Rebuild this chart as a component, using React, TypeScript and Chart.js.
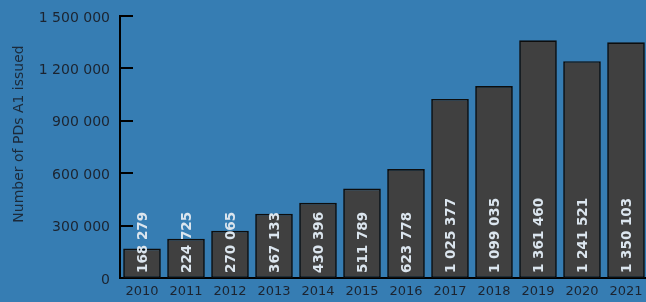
import React, { useEffect, useRef } from "react";
import { Chart, registerables } from "chart.js";

Chart.register(...registerables);

const years = ["2010", "2011", "2012", "2013", "2014", "2015", "2016", "2017", "2018", "2019", "2020", "2021"];
const issued = [168279, 224725, 270065, 367133, 430396, 511789, 623778, 1025377, 1099035, 1361460, 1241521, 1350103];
const yTicks = [0, 300000, 600000, 900000, 1200000, 1500000];
const yTitle = "Number of PDs A1 issued";

const BG = "#367db3";
const fmt = (v: number) => String(v).replace(/\B(?=(\d{3})+(?!\d))/g, " ");

export default function App() {
  const ref = useRef<HTMLCanvasElement | null>(null);
  useEffect(() => {
    document.documentElement.style.overflow = "hidden";
    document.body.style.margin = "0";
    document.body.style.background = BG;
    const bgPlugin = {
      id: "bg",
      beforeDraw(chart: any) {
        const ctx = chart.ctx;
        ctx.save();
        ctx.fillStyle = BG;
        ctx.fillRect(0, 0, chart.width, chart.height);
        ctx.restore();
      },
    };
    const decor = {
      id: "decor",
      afterDatasetsDraw(chart: any) {
        const ctx = chart.ctx;
        const y = chart.scales.y;
        const area = chart.chartArea;
        ctx.save();
        ctx.strokeStyle = "#000";
        ctx.lineWidth = 2;
        yTicks.forEach((t) => {
          if (t === 0) return;
          const py = Math.round(y.getPixelForValue(t));
          ctx.beginPath();
          ctx.moveTo(area.left, py);
          ctx.lineTo(area.left + 13, py);
          ctx.stroke();
        });
        const meta = chart.getDatasetMeta(0);
        ctx.fillStyle = "#dbe5ee";
        ctx.font = "bold 13.5px 'DejaVu Sans'";
        ctx.textAlign = "left";
        ctx.textBaseline = "middle";
        meta.data.forEach((bar: any, i: number) => {
          ctx.save();
          ctx.translate(bar.x, bar.base - 5);
          ctx.rotate(-Math.PI / 2);
          ctx.fillText(fmt(issued[i]), 0, 1);
          ctx.restore();
        });
        ctx.fillStyle = "#1c2a3a";
        ctx.font = "14px 'DejaVu Sans'";
        ctx.textAlign = "center";
        ctx.textBaseline = "middle";
        ctx.translate(19, 134);
        ctx.rotate(-Math.PI / 2);
        ctx.fillText(yTitle, 0, 0);
        ctx.restore();
      },
    };
    const chart = new Chart(ref.current!, {
      type: "bar",
      data: {
        labels: years,
        datasets: [
          {
            data: issued,
            backgroundColor: "#404040",
            borderColor: "#0d0d0d",
            borderWidth: 1.7,
            borderSkipped: false,
            categoryPercentage: 1,
            barPercentage: 0.855,
          },
        ],
      },
      options: {
        animation: false,
        responsive: false,
        maintainAspectRatio: false,
        layout: { padding: { top: 16, left: 0, right: 0, bottom: 0 } },
        plugins: { legend: { display: false }, tooltip: { enabled: false } },
        scales: {
          x: {
            grid: { display: false, drawTicks: false },
            border: { display: true, color: "#000", width: 2 },
            ticks: { color: "#1c2430", font: { family: "'DejaVu Sans'", size: 13 }, padding: 6 },
            afterFit(s: any) {
              s.height = 24;
              s.paddingLeft = 0;
              s.paddingRight = 0;
            },
          },
          y: {
            min: 0,
            max: 1500000,
            afterBuildTicks(s: any) {
              s.ticks = yTicks.map((v) => ({ value: v }));
            },
            grid: { display: false, drawTicks: false },
            border: { display: true, color: "#000", width: 2 },
            ticks: {
              color: "#1c2430",
              font: { family: "'DejaVu Sans'", size: 14 },
              padding: 10,
              labelOffset: 2,
              callback: (v: any) => fmt(Number(v)),
            },
            afterFit(s: any) {
              s.width = 120;
              s.paddingTop = 0;
              s.paddingBottom = 0;
            },
          },
        },
      },
      plugins: [bgPlugin, decor],
    });
    return () => chart.destroy();
  }, []);
  return (
    <div style={{ width: 648, height: 302, background: BG }}>
      <canvas ref={ref} width={648} height={302} style={{ display: "block" }} />
    </div>
  );
}
